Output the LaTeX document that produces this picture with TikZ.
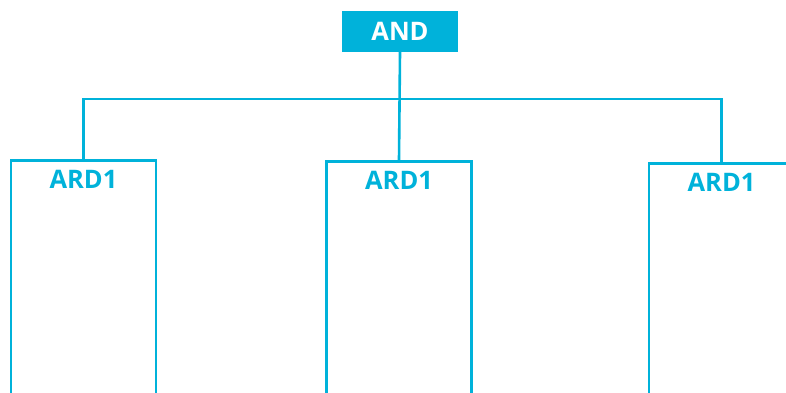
\documentclass[tikz,border=0pt]{standalone}
\usepackage{fontspec}
\setmainfont{Open Sans}
\usepackage{xcolor}
\usetikzlibrary{positioning}
\definecolor{andcyan}{RGB}{0,178,218}

\begin{document}
\begin{tikzpicture}[x=1pt, y=1pt,
    andbox/.style={fill=andcyan, text=white, font=\bfseries\fontsize{25.5}{25.5}\selectfont, minimum width=116pt, minimum height=41pt, inner sep=0pt},
    ardbox/.style={draw=andcyan, line width=2.6pt, anchor=north, minimum width=145pt, minimum height=300pt},
    ardtext/.style={text=andcyan, font=\bfseries\fontsize{25.5}{25.5}\selectfont, inner sep=0pt},
    link/.style={draw=andcyan, line width=2.6pt}]
    \useasboundingbox (0,0) rectangle (786,392);
    \clip (0,0) rectangle (786,392);
    \node[andbox] (and) at (400,360.5) {AND};
    \node[ardbox] (ardL) at (83.5,233) {};
    \node[ardbox] (ardM) at (399,232) {};
    \node[ardbox] (ardR) at (721.5,230) {};
    \node[ardtext, below=11.5pt of ardL.north] (txtL) {ARD1};
    \node[ardtext, below=11.5pt of ardM.north] (txtM) {ARD1};
    \node[ardtext, below=11.5pt of ardR.north] (txtR) {ARD1};
    \coordinate (bus) at (0,293);
    \draw[link] (and.south) -- (ardM.north);
    \draw[link] (ardL.north) -- (ardL.north |- bus) -| (ardR.north);
\end{tikzpicture}
\end{document}
